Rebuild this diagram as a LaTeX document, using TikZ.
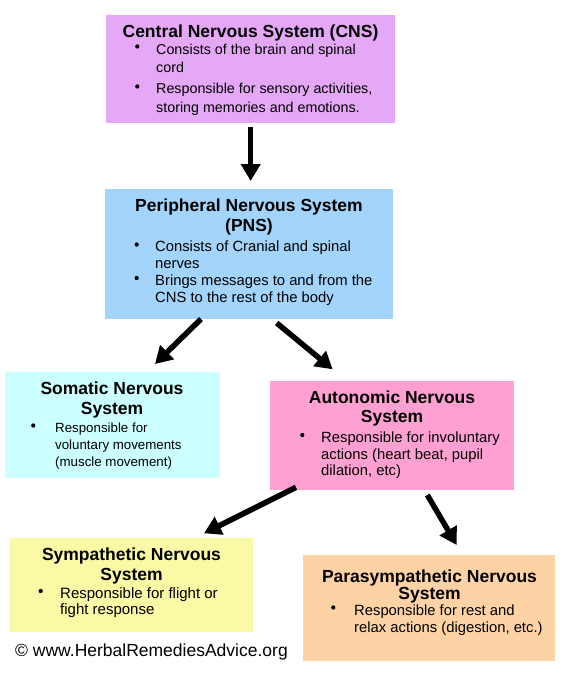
\documentclass[tikz,border=0pt]{standalone}
\usepackage{fontspec}
\setmainfont{Liberation Sans}
\usetikzlibrary{arrows.meta}
\definecolor{cnscol}{RGB}{229,168,246}
\definecolor{pnscol}{RGB}{163,212,251}
\definecolor{somcol}{RGB}{204,255,255}
\definecolor{autcol}{RGB}{255,160,211}
\definecolor{symcol}{RGB}{250,249,166}
\definecolor{parcol}{RGB}{253,211,166}
\begin{document}
\begin{tikzpicture}[x=1pt,y=-1pt,
  box/.style={rectangle, draw=none, inner sep=0pt, outer sep=0pt, anchor=north west},
  ttl/.style={font=\fontsize{17.5}{20}\selectfont\bfseries, inner sep=0pt, anchor=base},
  txt/.style={font=\fontsize{#1}{17}\selectfont, inner sep=0pt, anchor=base west},
  txt/.default=14.8,
  bul/.style={circle, fill=black, inner sep=0pt, minimum size=4.3pt},
  arr/.style={line width=5.5pt, -{Triangle[length=17pt,width=19pt]}}]
\useasboundingbox (0,0) rectangle (564,673);
\fill[white] (0,0) rectangle (564,673);

% boxes
\node[box, fill=cnscol, minimum width=289pt, minimum height=108pt] (cns) at (106,15) {};
\node[box, fill=pnscol, minimum width=288pt, minimum height=130pt] (pns) at (105,189) {};
\node[box, fill=somcol, minimum width=215pt, minimum height=106pt] (som) at (5,372) {};
\node[box, fill=autcol, minimum width=244pt, minimum height=109pt] (aut) at (270,381) {};
\node[box, fill=symcol, minimum width=243pt, minimum height=94pt] (sym) at (10,538) {};
\node[box, fill=parcol, minimum width=252pt, minimum height=106pt] (par) at (303,555) {};

% CNS
\node[ttl] (cnst) at (250.5,37.7) {Central Nervous System (CNS)};
\node[bul] (cnsb1) at (137.3,46.5) {};
\node[txt=14.3] (cnsl1) at (156,54) {Consists of the brain and spinal};
\node[txt=14.3] (cnsl2) at (156,72.2) {cord};
\node[bul] (cnsb2) at (137.3,86.5) {};
\node[txt=14.3] (cnsl3) at (156,93.3) {Responsible for sensory activities,};
\node[txt=14.3] (cnsl4) at (156,112) {storing memories and emotions.};

% PNS
\node[ttl] (pnst1) at (249,211.7) {Peripheral Nervous System};
\node[ttl] (pnst2) at (249,231.7) {(PNS)};
\node[bul] (pnsb1) at (136.7,244.5) {};
\node[txt] (pnsl1) at (155,251.5) {Consists of Cranial and spinal};
\node[txt] (pnsl2) at (155,268) {nerves};
\node[bul] (pnsb2) at (136.7,278) {};
\node[txt] (pnsl3) at (155,285) {Brings messages to and from the};
\node[txt] (pnsl4) at (155,302) {CNS to the rest of the body};

% Somatic
\node[ttl] (somt1) at (112,394) {Somatic Nervous};
\node[ttl] (somt2) at (112,414) {System};
\node[bul] (somb1) at (33.3,425.5) {};
\node[txt=13.3] (soml1) at (55,432.5) {Responsible for};
\node[txt=13.3] (soml2) at (55,449.5) {voluntary movements};
\node[txt=13.3] (soml3) at (55,466.5) {(muscle movement)};

% Autonomic
\node[ttl] (autt1) at (392,403.3) {Autonomic Nervous};
\node[ttl] (autt2) at (392,422.7) {System};
\node[bul] (autb1) at (302.3,435) {};
\node[txt] (autl1) at (321,442.3) {Responsible for involuntary};
\node[txt] (autl2) at (321,459) {actions (heart beat, pupil};
\node[txt] (autl3) at (321,475.7) {dilation, etc)};

% Sympathetic
\node[ttl] (symt1) at (131.5,560) {Sympathetic Nervous};
\node[ttl] (symt2) at (131.5,580) {System};
\node[bul] (symb1) at (40.7,591) {};
\node[txt=15] (syml1) at (60,598.5) {Responsible for flight or};
\node[txt=15] (syml2) at (60,614.3) {fight response};

% Parasympathetic
\node[ttl] (part1) at (429.5,582.3) {Parasympathetic Nervous};
\node[ttl] (part2) at (429.5,599) {System};
\node[bul] (parb1) at (333.3,607.5) {};
\node[txt] (parl1) at (354,615) {Responsible for rest and};
\node[txt] (parl2) at (354,632.3) {relax actions (digestion, etc.)};

% copyright
\node[font=\fontsize{17.5}{20}\selectfont, inner sep=0pt, anchor=base west] (copy) at (15,656.7) {© www.HerbalRemediesAdvice.org};

% arrows
\coordinate (a1s) at (250.7,126.5);
\coordinate (a1e) at (250.7,181);
\coordinate (a2s) at (201,319);
\coordinate (a2e) at (155,364);
\coordinate (a3s) at (276.7,323);
\coordinate (a3e) at (332.7,369.3);
\coordinate (a4s) at (296,487.3);
\coordinate (a4e) at (204,533.3);
\coordinate (a5s) at (427.3,495);
\coordinate (a5e) at (456.7,545);
\draw[arr] (a1s) -- (a1e);
\draw[arr] (a2s) -- (a2e);
\draw[arr] (a3s) -- (a3e);
\draw[arr] (a4s) -- (a4e);
\draw[arr] (a5s) -- (a5e);
\end{tikzpicture}
\end{document}
